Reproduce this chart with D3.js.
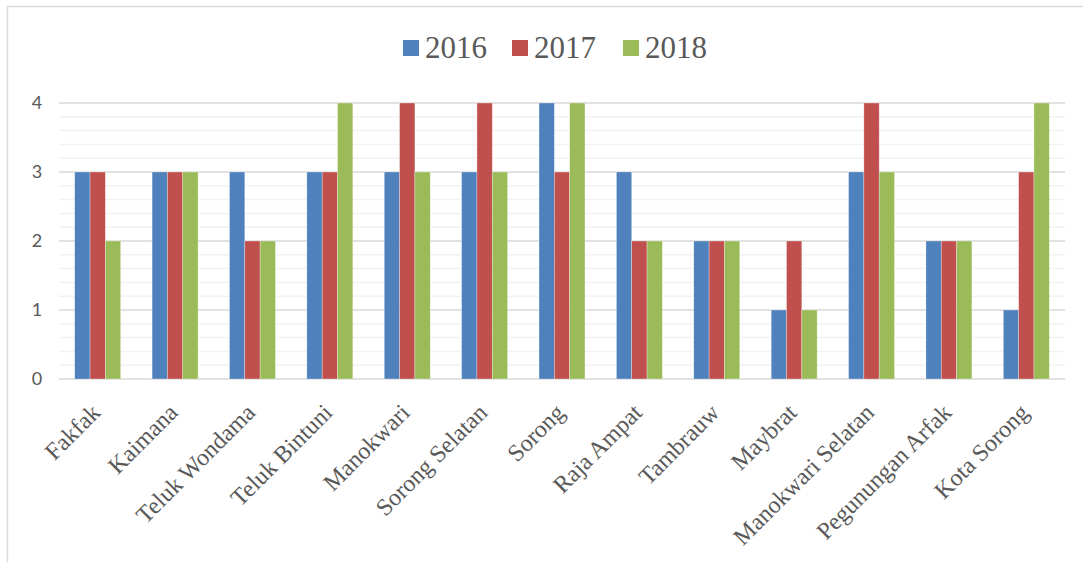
<!DOCTYPE html>
<html>
<head>
<meta charset="utf-8">
<script src="https://cdn.jsdelivr.net/npm/d3@7"></script>
<style>
    body { margin: 0; background: #fff; }
    svg { display: block; }
</style>
</head>
<body>
<div id="chart"></div>
<script>
// Data
const regions = ['Fakfak', 'Kaimana', 'Teluk Wondama', 'Teluk Bintuni', 'Manokwari', 'Sorong Selatan',
    'Sorong', 'Raja Ampat', 'Tambrauw', 'Maybrat', 'Manokwari Selatan', 'Pegunungan Arfak', 'Kota Sorong'];
const years = ['2016', '2017', '2018'];
const values2016 = [3, 3, 3, 3, 3, 3, 4, 3, 2, 1, 3, 2, 1];
const values2017 = [3, 3, 2, 3, 4, 4, 3, 2, 2, 2, 4, 2, 3];
const values2018 = [2, 3, 2, 4, 3, 3, 4, 2, 2, 1, 3, 2, 4];
const yTicks = [0, 1, 2, 3, 4];

const colors = { '2016': '#4f81bd', '2017': '#c0504d', '2018': '#9bbb59' };
const seriesValues = { '2016': values2016, '2017': values2017, '2018': values2018 };

const rows = regions.map((r, i) => ({
    region: r,
    vals: years.map(y => ({ year: y, value: seriesValues[y][i] }))
}));

const width = 1083, height = 562;
const svg = d3.select('#chart').append('svg')
    .attr('width', width)
    .attr('height', height);

// outer frame (only top and left edges visible)
svg.append('rect')
    .attr('x', 7.5).attr('y', 6.5)
    .attr('width', 1090).attr('height', 600)
    .attr('fill', 'none')
    .attr('stroke', '#d9d9d9')
    .attr('stroke-width', 1.5);

const plot = { left: 59, right: 1065, top: 103, bottom: 379 };

const x0 = d3.scaleBand()
    .domain(regions)
    .range([plot.left, plot.right])
    .paddingInner(0.406)
    .paddingOuter(0.203);

const x1 = d3.scaleBand()
    .domain(years)
    .range([0, x0.bandwidth()]);

const y = d3.scaleLinear()
    .domain([0, 4])
    .range([plot.bottom, plot.top]);

// minor gridlines
const minor = d3.range(1, 20).map(i => i * 0.2).filter(v => Math.abs(v - Math.round(v)) > 0.01);
svg.append('g').selectAll('line')
    .data(minor)
    .join('line')
    .attr('x1', plot.left).attr('x2', plot.right)
    .attr('y1', d => y(d)).attr('y2', d => y(d))
    .attr('stroke', '#f2f2f2')
    .attr('stroke-width', 1.5);

// major gridlines
svg.append('g').selectAll('line')
    .data(yTicks)
    .join('line')
    .attr('x1', plot.left).attr('x2', plot.right)
    .attr('y1', d => y(d)).attr('y2', d => y(d))
    .attr('stroke', '#d9d9d9')
    .attr('stroke-width', 1.5);

// y axis labels
const yAxis = svg.append('g')
    .attr('transform', `translate(${plot.left - 22},0)`)
    .call(d3.axisLeft(y).tickValues(yTicks).tickSize(0).tickFormat(d3.format('d')));
yAxis.select('.domain').remove();
yAxis.selectAll('text')
    .attr('x', 0)
    .attr('text-anchor', 'middle')
    .attr('fill', '#595959')
    .style('font-family', 'Lato, "Open Sans", sans-serif')
    .style('font-size', '18px');

// bars
const groups = svg.append('g').selectAll('g')
    .data(rows)
    .join('g')
    .attr('transform', d => `translate(${x0(d.region)},0)`);

groups.selectAll('rect')
    .data(d => d.vals)
    .join('rect')
    .attr('x', d => x1(d.year))
    .attr('width', x1.bandwidth())
    .attr('y', d => y(d.value))
    .attr('height', d => y(0) - y(d.value))
    .attr('fill', d => colors[d.year])
    .attr('stroke', '#ffffff')
    .attr('stroke-opacity', 0.5)
    .attr('stroke-width', 0.6);

// x axis labels
const xAxis = svg.append('g')
    .attr('transform', `translate(0,${plot.bottom})`)
    .call(d3.axisBottom(x0).tickSize(0));
xAxis.select('.domain').remove();
xAxis.selectAll('text')
    .attr('x', 0).attr('y', 0).attr('dy', 0)
    .attr('text-anchor', 'end')
    .attr('transform', 'translate(4,35) rotate(-45)')
    .attr('fill', '#595959')
    .style('font-family', '"Liberation Serif", "Times New Roman", serif')
    .style('font-size', '24px');

// legend
const legendX = [403, 512, 623];
const legend = svg.append('g').selectAll('g')
    .data(years)
    .join('g')
    .attr('transform', (d, i) => `translate(${legendX[i]},40)`);
legend.append('rect')
    .attr('width', 16).attr('height', 16)
    .attr('fill', d => colors[d]);
legend.append('text')
    .attr('x', 22).attr('y', 18)
    .attr('fill', '#595959')
    .style('font-family', '"Liberation Serif", "Times New Roman", serif')
    .style('font-size', '31px')
    .text(d => d);
</script>
</body>
</html>
